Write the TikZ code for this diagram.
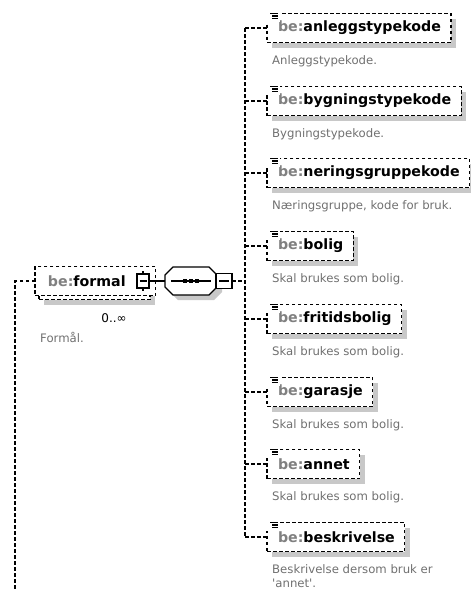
\documentclass[tikz,border=0pt]{standalone}
\usepackage{fontspec}
\setmainfont{DejaVu Sans}
\usetikzlibrary{calc,shadows}
\definecolor{shgray}{RGB}{200,200,200}
\definecolor{pfxgray}{RGB}{128,128,128}
\definecolor{docgray}{RGB}{112,112,112}
\tikzset{
  conn/.style={line width=1.2pt, dash pattern=on 3.5pt off 2.5pt},
  elembase/.style={draw=black, line width=1.2pt, dash pattern=on 3.5pt off 2.5pt,
    fill=white, inner xsep=0pt, inner ysep=0pt, outer sep=0pt,
    minimum height=29pt, anchor=west,
    font=\fontsize{14.2}{16}\selectfont\bfseries},
  elem/.style={elembase,
    general shadow={fill=shgray, shadow xshift=5pt, shadow yshift=-5pt}},
  doc/.style={anchor=base west, inner sep=0pt, align=left, text=docgray,
    font=\fontsize{11.7}{14}\selectfont},
  minusbox/.style={draw=black, fill=white, inner sep=0pt, outer sep=0pt},
  iconline/.style={line width=1.1pt, line cap=butt},
}
\newcommand{\elname}[1]{\hspace*{11pt}{\color{pfxgray}be:}#1\hspace*{10pt}}
\begin{document}
\begin{tikzpicture}[x=1pt, y=-1pt]
\useasboundingbox (0,0) rectangle (471,590);

% ---- the element be:formal (unbounded: stacked boxes) ----
\node[elem, minimum width=111pt] (fr2) at (39,285) {};
\node[elembase, minimum width=111pt] (fr) at (35,281)
  {\hspace*{13pt}{\color{pfxgray}be:}formal\hspace*{30pt}};
\node[minusbox, line width=1.6pt, minimum width=12pt, minimum height=14pt]
  (fm) at (143,281) {};
\draw[line width=1.1pt] ([xshift=2.5pt]fm.west) -- ([xshift=-2.5pt]fm.east);
\draw[line width=1.4pt] (fm.north) -- ++(0,-3);
\draw[line width=1.4pt] (fm.south) -- ++(0,3);
\node[anchor=center, inner sep=0pt, font=\fontsize{12}{14}\selectfont]
  (occ) at (114,318) {0..\raisebox{0.2pt}{∞}};
\node[doc] (frdoc) at (40,342) {Formål.};

% left spine going down
\coordinate (lb) at (15,590);
\draw[conn] (fr.west) -| (lb);

% ---- sequence compositor ----
\node[inner sep=0pt, outer sep=0pt, minimum width=52pt, minimum height=28pt]
  (seq) at (191,281) {};
\fill[shgray] ([shift={(5,5)}]seq.center) ++(-26,-6) -- ++(8,-8) -- ++(36,0)
  -- ++(8,8) -- ++(0,12) -- ++(-8,8) -- ++(-36,0) -- ++(-8,-8) -- cycle;
\draw[line width=1.2pt, fill=white] (seq.center) ++(-26,-6) -- ++(8,-8) -- ++(36,0)
  -- ++(8,8) -- ++(0,12) -- ++(-8,8) -- ++(-36,0) -- ++(-8,-8) -- cycle;
\draw[line width=1.2pt] ([xshift=6pt]seq.west) -- ([xshift=-6pt]seq.east);
\foreach \dx in {-6,0,6}
  \fill ([xshift=\dx pt]seq.center) ++(-2,-2) rectangle ++(4,4);
\node[minusbox, line width=1.4pt, minimum width=16pt, minimum height=15pt]
  (sm) at (224,281) {};
\draw[line width=1.2pt] ([xshift=3pt]sm.west) -- ([xshift=-3pt]sm.east);
\draw[line width=1.2pt] (fm.east) -- (seq.west);

% ---- child elements ----
\node[elem] (c1) at (267,28)  {\elname{anleggstypekode}};
\node[elem] (c2) at (267,101) {\elname{bygningstypekode}};
\node[elem] (c3) at (267,173) {\elname{neringsgruppekode}};
\node[elem] (c4) at (267,246) {\elname{bolig}};
\node[elem] (c5) at (267,319) {\elname{fritidsbolig}};
\node[elem] (c6) at (267,392) {\elname{garasje}};
\node[elem] (c7) at (267,464) {\elname{annet}};
\node[elem] (c8) at (267,537) {\elname{beskrivelse}};

\node[doc] (d1) at (272,64)  {Anleggstypekode.};
\node[doc] (d2) at (272,137) {Bygningstypekode.};
\node[doc] (d3) at (272,209) {Næringsgruppe, kode for bruk.};
\node[doc] (d4) at (272,282) {Skal brukes som bolig.};
\node[doc] (d5) at (272,355) {Skal brukes som bolig.};
\node[doc] (d6) at (272,428) {Skal brukes som bolig.};
\node[doc] (d7) at (272,500) {Skal brukes som bolig.};
\node[doc] (d8) at (272,587) {Beskrivelse dersom bruk er\\\textquotesingle annet\textquotesingle.};

% annotation marks in the upper left corners
\foreach \n in {c1,c2,c3,c4,c5,c6,c7,c8} {
  \fill[white] ($(\n.north west)+(-1,-1.5)$) rectangle ($(\n.north west)+(13,8)$);
  \draw[iconline] ($(\n.north west)+(3,0)$) -- ++(8,0);
  \draw[iconline] ($(\n.north west)+(5,2.5)$) -- ++(6,0);
  \draw[iconline] ($(\n.north west)+(5,5)$) -- ++(6,0);
}

% ---- connectors of the sequence ----
\coordinate (sp) at (245,281);
\draw[conn] (sm.east) -- (sp);
\draw[conn] (c1.west -| sp) -- (c8.west -| sp);
\foreach \n in {c1,c2,c3,c4,c5,c6,c7,c8}
  \draw[conn] (\n.west -| sp) -- (\n.west);
\end{tikzpicture}
\end{document}
